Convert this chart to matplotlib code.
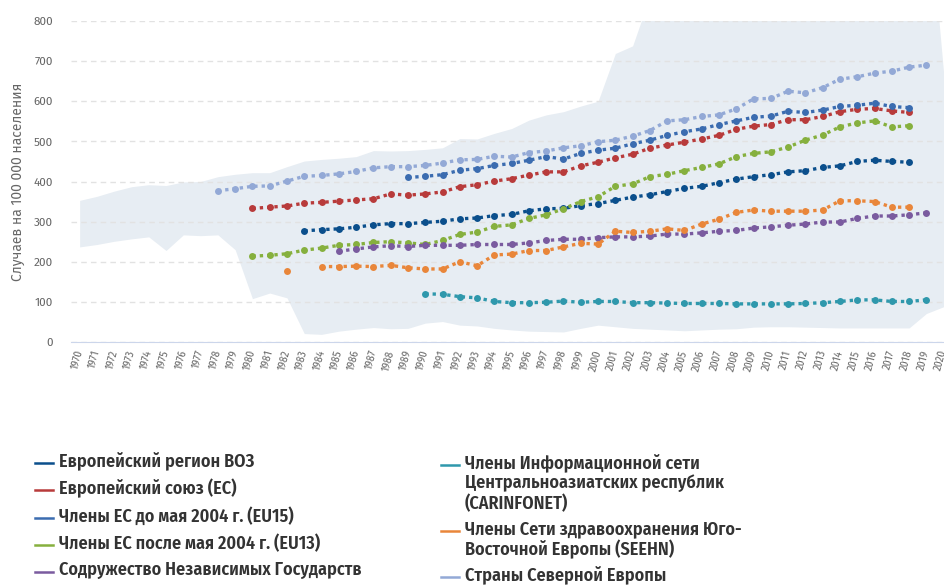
import matplotlib
matplotlib.use('Agg')
import matplotlib.pyplot as plt
from matplotlib.lines import Line2D
import numpy as np

# band (min/max over countries), 1970-2020
band_years = list(range(1970, 2021))
band_upper = [353, 363, 376, 387, 392, 390, 399, 400, 412, 418,
              422, 422, 437, 451, 455, 458, 462, 477, 476, 477,
              480, 484, 507, 506, 520, 532, 553, 566, 574, 588,
              600, 719, 738, 862, 1150, 1150, 1150, 1150, 1150, 1150,
              1150, 1150, 1150, 1150, 1150, 1150, 1150, 1150, 1150, 1150,
              670]
band_lower = [237, 243, 251, 257, 262, 228, 267, 265, 267, 230,
              108, 122, 110, 21, 19, 27, 32, 36, 33, 34,
              47, 51, 42, 40, 34, 30, 27, 26, 25, 34,
              42, 38, 34, 32, 30, 28, 30, 32, 33, 37,
              38, 38, 37, 36, 35, 35, 35, 35, 35, 71,
              88]

# series, first year + values
who_start = 1983
who_region = [277, 280, 282, 286, 292, 295, 295, 298, 301, 307,
              309, 315, 318, 327, 332, 333, 340, 345, 353, 361,
              367, 375, 383, 388, 397, 406, 412, 417, 424, 427,
              435, 439, 450, 453, 450, 448]
eu_start = 1980
eu = [333, 336, 339, 346, 348, 351, 354, 357, 369, 366,
      369, 374, 387, 392, 401, 407, 416, 424, 424, 439,
      448, 459, 468, 483, 491, 498, 506, 515, 530, 538,
      542, 554, 554, 562, 574, 580, 582, 576, 572]
eu15_start = 1989
eu15 = [410, 413, 417, 428, 432, 440, 445, 453, 462, 456,
        470, 478, 483, 494, 503, 515, 524, 531, 542, 551,
        560, 563, 575, 572, 578, 587, 590, 595, 587, 584]
eu13_start = 1980
eu13 = [214, 216, 220, 229, 234, 241, 243, 248, 250, 247,
        243, 253, 268, 274, 288, 292, 308, 317, 332, 350,
        362, 388, 394, 412, 418, 427, 435, 444, 462, 470,
        474, 486, 503, 516, 536, 546, 551, 536, 539]
cis_start = 1985
cis = [226, 232, 237, 240, 238, 241, 241, 241, 243, 243,
       243, 247, 253, 256, 256, 260, 262, 262, 264, 269,
       269, 272, 276, 278, 284, 287, 291, 294, 299, 299,
       308, 314, 314, 317, 322]
carinfonet_start = 1990
carinfonet = [120, 119, 113, 110, 101, 98, 98, 99, 102, 99,
              101, 101, 98, 98, 97, 96, 96, 96, 95, 95,
              95, 95, 96, 98, 101, 105, 105, 101, 101, 105]
seehn_start = 1982
seehn = [178, np.nan, 188, 188, 189, 188, 191, 185, 182, 182,
         200, 190, 217, 219, 228, 228, 237, 246, 244, 276,
         273, 276, 282, 278, 294, 306, 323, 329, 326, 326,
         326, 329, 352, 352, 350, 336, 336]
nordic_start = 1978
nordic = [377, 382, 388, 389, 401, 413, 415, 419, 425, 434,
          437, 437, 440, 446, 454, 455, 463, 461, 472, 476,
          484, 489, 499, 503, 513, 527, 551, 554, 562, 566,
          581, 606, 607, 625, 621, 634, 655, 661, 670, 675,
          685, 690]

labels = ['Европейский регион ВОЗ',
          'Европейский союз (ЕС)',
          'Члены ЕС до мая 2004 г. (EU15)',
          'Члены ЕС после мая 2004 г. (EU13)',
          'Содружество Независимых Государств',
          'Члены Информационной сети\nЦентральноазиатских республик\n(CARINFONET)',
          'Члены Сети здравоохранения Юго-\nВосточной Европы (SEEHN)',
          'Страны Северной Европы']
colors = ['#0b4f8c', '#b83b3b', '#3b6cb0', '#86b03e',
          '#7a5b9f', '#2f98ac', '#e9863a', '#93a9d6']
data = [(who_start, who_region), (eu_start, eu), (eu15_start, eu15),
        (eu13_start, eu13), (cis_start, cis),
        (carinfonet_start, carinfonet), (seehn_start, seehn),
        (nordic_start, nordic)]

plt.rcParams['font.family'] = ['Fira Sans', 'DejaVu Sans']

fig = plt.figure(figsize=(9.44, 5.86), dpi=100)
ax = fig.add_axes([71/944, 244/586, 873/944, 321/586])

ax.fill_between(band_years, band_lower, band_upper, color='#e7edf3', lw=0, zorder=1)

for (start, vals), col in zip(data, colors):
    yrs = np.arange(start, start + len(vals))
    ax.plot(yrs, vals, ls=(0, (1, 1.2)), lw=2.4, color=col,
            marker='o', ms=5, mew=0, zorder=3)

ax.set_xlim(1969.5, 2020.02)
ax.set_ylim(0, 800)
ax.set_yticks(range(0, 801, 100))
ax.set_xticks(range(1970, 2021))
ax.set_xticklabels([str(y) for y in range(1970, 2021)], rotation=75,
                   ha='right', va='center', rotation_mode='anchor')
ax.grid(axis='y', ls=(0, (4, 3)), color='#e2e2e2', lw=1)
for s in ['top', 'right', 'left']:
    ax.spines[s].set_visible(False)
ax.spines['bottom'].set_color('#ccd6eb')
ax.tick_params(axis='y', length=0, pad=13, labelsize=8.5, labelcolor='#666666')
ax.tick_params(axis='x', length=0, pad=6, labelsize=7.3, labelcolor='#666666')

fig.text(18/944, 1 - 182/586, 'Случаев на 100 000 населения', rotation=90,
         ha='center', va='center', fontsize=10, color='#666666')

# legend drawn by hand, two columns
leg_font = ['Fira Sans Condensed', 'DejaVu Sans']
col_x = [35, 441]
rows = [(0, 463), (0, 490), (0, 518), (0, 545), (0, 572),
        (1, 465), (1, 531), (1, 577)]
for lab, col, (c, ypix) in zip(labels, colors, rows):
    x0 = col_x[c]
    fy = 1 - ypix/586
    fig.add_artist(Line2D([x0/944, (x0 + 18)/944], [fy, fy], color=col, lw=1.8,
                          transform=fig.transFigure))
    fig.text((x0 + 24)/944, fy + 11/586, lab, ha='left', va='top',
             fontsize=13, family=leg_font, fontweight='semibold', color='#333333',
             linespacing=1.12)

fig.savefig('out.png', dpi=100)
